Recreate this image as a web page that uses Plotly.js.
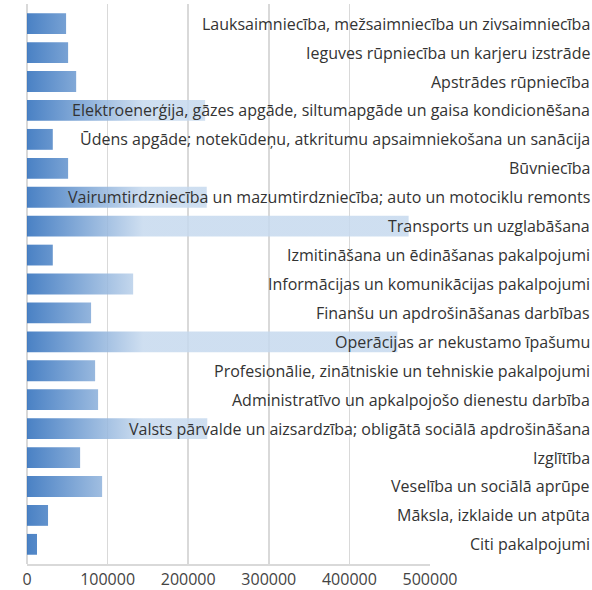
<!DOCTYPE html>
<html>
<head>
<meta charset="utf-8">
<script src="https://cdn.plot.ly/plotly-3.0.1.min.js"></script>
<style>html,body{margin:0;padding:0;background:#fff;}#chart{width:592px;height:590px;}</style>
</head>
<body>
<div id="chart"></div>
<script>
const categories = [
  "Lauksaimniecība, mežsaimniecība un zivsaimniecība",
  "Ieguves rūpniecība un karjeru izstrāde",
  "Apstrādes rūpniecība",
  "Elektroenerģija, gāzes apgāde, siltumapgāde un gaisa kondicionēšana",
  "Ūdens apgāde; notekūdeņu, atkritumu apsaimniekošana un sanācija",
  "Būvniecība",
  "Vairumtirdzniecība un mazumtirdzniecība; auto un motociklu remonts",
  "Transports un uzglabāšana",
  "Izmitināšana un ēdināšanas pakalpojumi",
  "Informācijas un komunikācijas pakalpojumi",
  "Finanšu un apdrošināšanas darbības",
  "Operācijas ar nekustamo īpašumu",
  "Profesionālie, zinātniskie un tehniskie pakalpojumi",
  "Administratīvo un apkalpojošo dienestu darbība",
  "Valsts pārvalde un aizsardzība; obligātā sociālā apdrošināšana",
  "Izglītība",
  "Veselība un sociālā aprūpe",
  "Māksla, izklaide un atpūta",
  "Citi pakalpojumi"
];
const values = [48500, 51000, 61000, 221000, 32000, 51000, 223000, 473500, 32000, 131700,
                79500, 459500, 84500, 88200, 223700, 65900, 93200, 26100, 12400];
const xTicks = [0, 100000, 200000, 300000, 400000, 500000];
const gradientEnd = 144000;

const fontFam = '"Open Sans", Lato, sans-serif';

const trace = {
  type: 'bar',
  orientation: 'h',
  y: categories,
  x: values,
  width: 0.72,
  marker: {color: '#4381c4', line: {width: 0}},
  hoverinfo: 'skip'
};

const annotations = categories.map((c, i) => ({
  xref: 'paper', yref: 'y',
  x: 1.402, y: c,
  text: c,
  showarrow: false,
  xanchor: 'right', yanchor: 'middle',
  font: {family: fontFam, size: 16, color: '#333333'}
}));

const layout = {
  width: 592, height: 590,
  margin: {l: 27, r: 162, t: 4, b: 26},
  paper_bgcolor: '#ffffff', plot_bgcolor: '#ffffff',
  showlegend: false,
  xaxis: {
    range: [0, 500000],
    tickvals: xTicks,
    ticktext: xTicks.map(String),
    showgrid: true, gridcolor: '#d9d9d9', gridwidth: 1.5,
    zeroline: true, zerolinecolor: '#d9d9d9', zerolinewidth: 1.5,
    showline: true, linecolor: '#d9d9d9', linewidth: 1.5,
    ticks: '',
    tickfont: {family: fontFam, size: 16, color: '#444444'},
    fixedrange: true
  },
  yaxis: {
    type: 'category',
    categoryorder: 'array', categoryarray: categories,
    range: [18.68, -0.68],
    showticklabels: false, showgrid: false, zeroline: false, ticks: '',
    fixedrange: true
  },
  annotations: annotations
};

const gd = document.getElementById('chart');
Plotly.newPlot(gd, [trace], layout, {displayModeBar: false, staticPlot: true}).then(() => {
  const xa = gd._fullLayout.xaxis;
  const svgNS = 'http://www.w3.org/2000/svg';
  const svg = gd.querySelector('svg.main-svg');
  let defs = svg.querySelector('defs');
  if (!defs) { defs = document.createElementNS(svgNS, 'defs'); svg.insertBefore(defs, svg.firstChild); }
  const lg = document.createElementNS(svgNS, 'linearGradient');
  lg.setAttribute('id', 'barGrad');
  lg.setAttribute('gradientUnits', 'userSpaceOnUse');
  lg.setAttribute('x1', xa.l2p(0)); lg.setAttribute('x2', xa.l2p(gradientEnd));
  lg.setAttribute('y1', 0); lg.setAttribute('y2', 0);
  [['0', '#2a6bba'], ['1', '#c6d9ee']].forEach(([o, c]) => {
    const s = document.createElementNS(svgNS, 'stop');
    s.setAttribute('offset', o); s.setAttribute('stop-color', c);
    lg.appendChild(s);
  });
  defs.appendChild(lg);
  gd.querySelectorAll('g.barlayer path').forEach(p => {
    p.style.fill = 'url(#barGrad)';
    p.style.fillOpacity = '0.85';
  });
});
</script>
</body>
</html>
